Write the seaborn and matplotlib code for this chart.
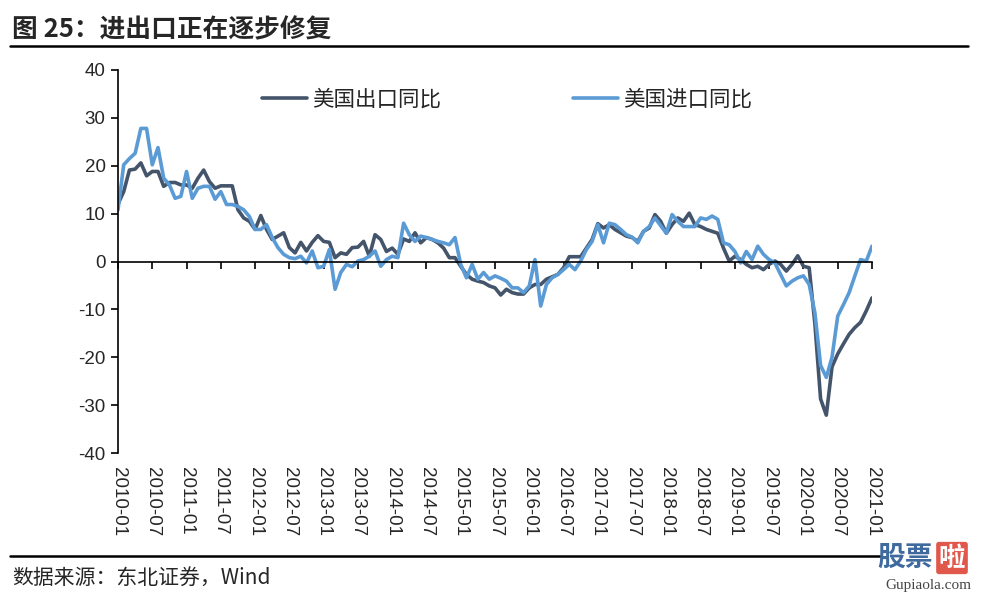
import pandas as pd
import matplotlib
matplotlib.use("Agg")
import matplotlib.pyplot as plt
import seaborn as sns

# monthly, 2010-01 .. 2021-01
months = pd.date_range("2010-01-01", "2021-01-01", freq="MS")

export_yoy = [
    12.0, 14.6, 19.1, 19.3, 20.6, 17.9, 18.8, 18.8, 15.7, 16.5, 16.5, 16.0,
    16.0, 15.3, 17.4, 19.1, 16.7, 15.3, 15.8, 15.8, 15.8, 10.8, 9.1, 8.4,
    6.7, 9.6, 6.7, 4.6, 5.3, 6.0, 2.9, 1.8, 4.0, 2.2, 4.0, 5.4,
    4.2, 4.0, 0.8, 1.8, 1.5, 2.9, 3.0, 4.2, 1.1, 5.6, 4.6, 2.1,
    2.8, 1.5, 4.7, 4.2, 6.0, 3.9, 5.0, 4.6, 3.9, 2.8, 0.8, 0.8,
    -1.0, -2.7, -3.7, -4.1, -4.4, -5.1, -5.5, -7.0, -5.8, -6.5, -6.8, -6.8,
    -5.5, -4.8, -4.8, -3.7, -3.2, -2.7, -1.3, 1.0, 1.0, 1.0, 2.8, 4.6,
    7.9, 7.0, 7.7, 6.7, 6.0, 5.3, 5.0, 4.2, 6.3, 7.0, 9.8, 8.4,
    5.9, 7.7, 9.1, 8.4, 10.1, 7.7, 7.3, 6.7, 6.3, 5.9, 2.8, 0.1,
    1.1, 0.4, -0.6, -1.3, -1.0, -1.7, -0.6, 0.1, -0.6, -2.0, -0.6, 1.2,
    -1.0, -1.3, -13.0, -28.7, -32.1, -22.0, -19.3, -17.2, -15.2, -13.8, -12.7, -10.3,
    -7.6,
]

import_yoy = [
    10.8, 20.2, 21.5, 22.6, 27.8, 27.8, 20.2, 23.8, 17.4, 16.0, 13.2, 13.6,
    18.8, 13.2, 15.3, 15.7, 15.7, 13.0, 14.6, 11.9, 11.9, 11.5, 10.8, 9.4,
    6.7, 6.7, 7.7, 5.0, 2.9, 1.5, 0.8, 0.6, 1.1, -0.3, 2.2, -1.3,
    -1.0, 2.5, -5.8, -2.3, -0.6, -1.1, 0.1, 0.4, 1.1, 2.2, -1.0, 0.4,
    1.1, 0.8, 8.0, 5.6, 4.2, 5.3, 5.0, 4.6, 4.2, 3.9, 3.5, 5.0,
    -0.6, -3.4, -0.6, -3.7, -2.3, -3.7, -3.0, -3.5, -4.1, -5.5, -5.5, -6.5,
    -5.1, 0.4, -9.3, -4.8, -3.4, -2.7, -1.7, -0.6, -1.7, 0.1, 2.5, 4.2,
    7.7, 3.9, 8.0, 7.7, 6.7, 5.6, 5.1, 3.9, 6.3, 7.3, 9.1, 7.5,
    5.9, 9.8, 8.4, 7.3, 7.3, 7.3, 9.1, 8.8, 9.5, 8.8, 3.9, 3.5,
    2.1, -0.3, 2.1, 0.4, 3.2, 1.5, 0.4, -0.3, -2.7, -5.1, -4.1, -3.4,
    -3.0, -4.8, -10.7, -21.7, -24.2, -20.0, -11.4, -9.0, -6.5, -3.0, 0.4, 0.1,
    3.2,
]

series_names = ["美国出口同比", "美国进口同比"]
colors = ["#44546A", "#5B9BD5"]

idx = list(range(len(months)))
df = pd.concat([
    pd.DataFrame({"idx": idx, "value": export_yoy, "series": series_names[0]}),
    pd.DataFrame({"idx": idx, "value": import_yoy, "series": series_names[1]}),
])

sns.set_theme(style="white")
plt.rcParams["font.family"] = ["Noto Sans CJK SC", "DejaVu Sans"]
plt.rcParams["axes.unicode_minus"] = False

fig = plt.figure(figsize=(9.96, 5.98), dpi=100)
ax = fig.add_axes([118 / 996, 1 - 453 / 598, (872 - 118) / 996, (453 - 70) / 598])

sns.lineplot(data=df, x="idx", y="value", hue="series", palette=colors,
             linewidth=2.6, ax=ax, legend=True)

ax.set_xlim(0, len(months) - 1)
ax.set_ylim(-40, 40)
ax.set_yticks(range(-40, 41, 10))
ax.set_xlabel("")
ax.set_ylabel("")

# zero line acts as x axis with ticks, labels at the bottom
for s in ["top", "right"]:
    ax.spines[s].set_visible(False)
ax.spines["bottom"].set_position(("data", 0))
ax.spines["left"].set_color("black")
ax.spines["bottom"].set_color("black")
ax.spines["left"].set_linewidth(1.2)
ax.spines["bottom"].set_linewidth(1.2)
tick_pos = idx[::6]
ax.set_xticks(tick_pos)
ax.tick_params(axis="x", direction="out", length=5, width=1.2, color="black",
               bottom=True, labelbottom=False)
ax.tick_params(axis="y", direction="out", length=5, width=1.2, color="black",
               left=True, labelsize=13.5, pad=4)
for lab in ax.get_yticklabels():
    lab.set_fontfamily("Liberation Sans")

sec = ax.secondary_xaxis(0)
sec.set_xticks(tick_pos)
sec.set_xticklabels([m.strftime("%Y-%m") for m in months[::6]], rotation=-90,
                    fontsize=13.5, fontfamily="Liberation Sans")
sec.tick_params(length=0, pad=10)
sec.spines["bottom"].set_visible(False)

handles, labels = ax.get_legend_handles_labels()
ax.legend(handles, labels, ncol=2, frameon=False, loc="center",
          bbox_to_anchor=(0.516, 0.922), fontsize=15.5, handlelength=2.1,
          handletextpad=0.25, columnspacing=6.1)

# title and source, with rules
fig.text(12 / 996, 1 - 30 / 598, "图 25：进出口正在逐步修复", fontsize=18.5,
         fontweight="bold", va="center", ha="left")
fig.add_artist(plt.Line2D([10 / 996, 968 / 996], [1 - 46 / 598] * 2,
                          color="black", linewidth=1.8))
fig.add_artist(plt.Line2D([10 / 996, 880 / 996], [1 - 556 / 598] * 2,
                          color="black", linewidth=1.8))
fig.text(12 / 996, 1 - 578 / 598, "数据来源：东北证券，Wind", fontsize=15,
         va="center", ha="left")

# watermark
fig.text(905 / 996, 1 - 558 / 598, "股票", fontsize=20, fontweight="bold",
         color="#3E6A9E", va="center", ha="center")
fig.text(952 / 996, 1 - 558 / 598, "啦", fontsize=19, fontweight="bold",
         color="white", va="center", ha="center",
         bbox=dict(boxstyle="round,pad=0.1", fc="#E0574B", ec="none"))
fig.text(928 / 996, 1 - 585 / 598, "Gupiaola.com", fontsize=11,
         fontfamily="Liberation Serif", color="#444444", va="center", ha="center")

fig.savefig("out.png", dpi=100)
